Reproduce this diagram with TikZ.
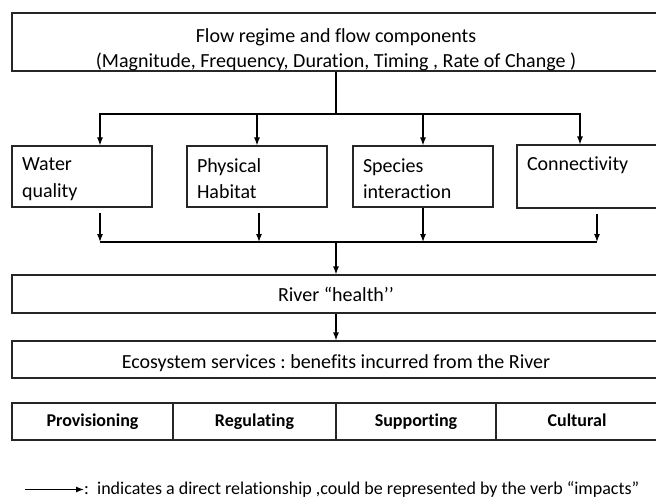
\documentclass[tikz,border=0pt]{standalone}
\usepackage{fontspec}
\setmainfont{Carlito}[Ligatures=NoCommon]
\usetikzlibrary{positioning,arrows.meta}
\frenchspacing

\tikzset{
  box/.style={draw=black!85, line width=1.2pt, inner xsep=10pt, inner ysep=0pt,
    font=\fontsize{20}{25}\selectfont},
  bigbox/.style={box, minimum width=648pt, align=center},
  smallbox/.style={box, minimum height=61pt, text width=120pt, align=left,
    font=\fontsize{20}{26.5}\selectfont},
  cell/.style={box, minimum height=37pt, inner xsep=0pt, text height=13pt, text depth=4pt,
    font=\bfseries\fontsize{18}{22}\selectfont},
  link/.style={->, line width=1.1pt},
  keytext/.style={inner sep=0pt, font=\fontsize{18}{22}\selectfont},
  >={Latex[length=8pt,width=6pt]}
}

\begin{document}
\begin{tikzpicture}[x=1pt, y=-1pt, on grid=true]
  \useasboundingbox (0,0) rectangle (656,498);
  \clip (0,0) rectangle (656,498);

  \node[bigbox, minimum height=58pt] (flow) at (336,42)
    {\rule{0pt}{29pt}Flow regime and flow components\\(Magnitude, Frequency, Duration, Timing , Rate of Change )};

  \node[smallbox, below left=134.5pt and 254pt of flow] (water) {\rule{0pt}{18pt}Water\\quality};
  \node[smallbox, right=175pt of water] (physical) {\rule{0pt}{18pt}Physical\\Habitat};
  \node[smallbox, right=166pt of physical] (species) {\rule{0pt}{18pt}Species\\interaction};
  \node[smallbox, right=165.5pt of species, minimum height=63pt, text width=123pt] (conn)
    {\rule{0pt}{18pt}Connectivity\\\phantom{quality}};

  \node[bigbox, minimum height=38pt, below=252pt of flow] (river) {River “health’’};
  \node[bigbox, minimum height=37pt, below=65.5pt of river, text height=19pt, text depth=2pt] (eco)
    {Ecosystem services : benefits incurred from the River};

  \node[cell, minimum width=161pt, below left=62pt and 243.5pt of eco] (prov) {Provisioning};
  \node[cell, minimum width=163pt, right=162pt of prov] (reg) {Regulating};
  \node[cell, minimum width=160pt, right=161.5pt of reg] (sup) {Supporting};
  \node[cell, minimum width=162pt, right=161pt of sup] (cult) {Cultural};

  \coordinate (top bus) at (336,114);
  \coordinate (low bus) at (336,242);

  \draw[line width=1.1pt] (flow.south) -- (top bus);
  \draw[link] (top bus) -| ([xshift=18pt]water.north);
  \draw[link] (top bus) -| (physical.north);
  \draw[link] (top bus) -| (species.north);
  \draw[link] (top bus) -| ([xshift=-8.5pt]conn.north);

  \draw[link] ([shift={(18pt,-5pt)}]water.south) -- ([xshift=18pt]water.south |- low bus);
  \draw[link] ([shift={(2pt,-5pt)}]physical.south) -- ([xshift=2pt]physical.south |- low bus);
  \draw[link] (species.south) -- (species.south |- low bus);
  \draw[link] ([shift={(8.5pt,-5pt)}]conn.south) -- ([xshift=8.5pt]conn.south |- low bus);
  \draw[line width=1.1pt] ([xshift=18pt]water.south |- low bus) -- ([xshift=8.5pt]conn.south |- low bus);

  \draw[link] (low bus) -- (river);
  \draw[link] (river) -- (eco);

  % legend
  \coordinate (key start) at (25,489.5);
  \node[keytext, anchor=west] (key) at (84,489.5)
    {:\ \ indicates a direct relationship ,could be represented by the verb “impacts”};
  \draw[link] (key start) -- (key.west);
\end{tikzpicture}
\end{document}
